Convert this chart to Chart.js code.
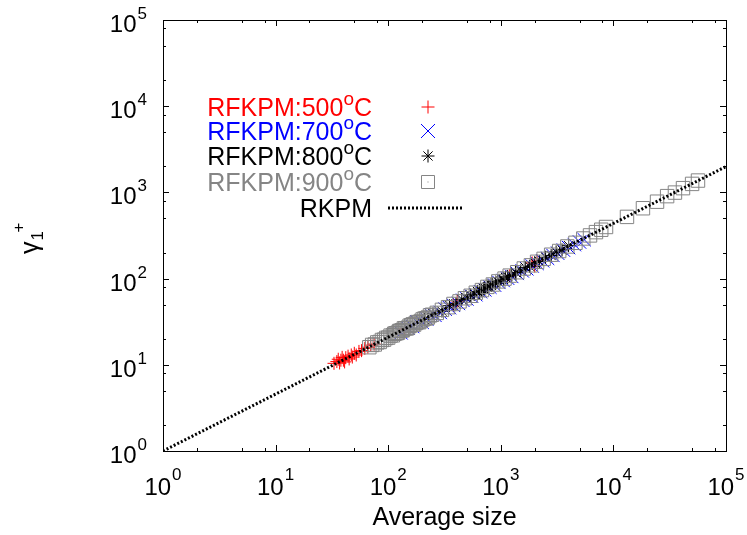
<!DOCTYPE html>
<html>
<head>
<meta charset="utf-8">
<script src="https://cdn.jsdelivr.net/npm/chart.js@4/dist/chart.umd.min.js"></script>
<style>
  body { margin: 0; background: #fff; }
  #chart { display: block; }
</style>
</head>
<body>
<canvas id="chart" width="747" height="535"></canvas>
<script>
// values
const red500X = [33, 35, 36, 37, 38, 39, 40, 41, 42, 44, 45, 47, 48, 50, 52, 55, 58, 62, 66, 70, 75, 140, 380, 410, 1200, 1900, 2000, 2100];
const red500Y = [10.4, 10.9, 11.6, 10.5, 11.3, 12.2, 11.3, 10.8, 12.1, 12.6, 11.7, 13.0, 12.3, 13.6, 13.0, 14.3, 14.6, 15.5, 16.0, 16.9, 17.4, 26.0, 49.5, 55.0, 108, 152, 140, 160];

const blue700X = [130, 150, 165, 180, 200, 220, 240, 260, 290, 320, 350, 380, 420, 460, 500, 550, 600, 660, 720, 800, 880, 960, 1050, 1150, 1250, 1400, 1550, 1700, 1900, 2100, 2350, 2600, 2900, 3200, 3600, 4000, 4500, 5000, 5500];
const blue700Y = [23.5, 26.5, 27.8, 31.5, 31.2, 34.0, 38.0, 37.5, 40.5, 44.2, 46.0, 49.0, 51.5, 56.0, 58.0, 62.5, 65.0, 70.5, 74.0, 79.5, 84.0, 90.5, 95.0, 101, 106, 115, 123, 130, 140, 150, 161, 172, 186, 197, 214, 229, 248, 266, 283];

const black800X = [210, 250, 300, 350, 400, 450, 500, 540, 580, 620, 650, 670, 700, 720, 760, 780, 820, 840, 900, 940, 980, 1060, 1100, 1150, 1250, 1350, 1500, 1650, 1800, 2000, 2200, 2500, 2800, 3100, 3500, 4000];
const black800Y = [33.5, 39.0, 42.0, 48.5, 51.0, 57.5, 59.0, 64.5, 65.5, 71.0, 69.0, 72.0, 76.5, 78.0, 79.0, 80.0, 85.0, 86.5, 88.0, 92.5, 95.5, 97.5, 103, 106, 109, 118, 123, 135, 139, 153, 158, 177, 185, 204, 215, 241];

const gray900X = [68, 72, 76, 80, 84, 88, 92, 96, 100, 105, 110, 113, 116, 119, 122, 125, 128, 132, 135, 138, 142, 146, 150, 155, 160, 165, 170, 176, 182, 188, 195, 202, 210, 218, 225, 235, 245, 270, 300, 340, 380, 430, 480, 540, 600, 680, 760, 850, 950, 1080, 1200, 1400, 1600, 1850, 2100, 2400, 2800, 3300, 3900, 4600, 5400, 6200, 7000, 7800, 8600, 13200, 18300, 24400, 30000, 35200, 41500, 50000, 56400];
const gray900Y = [16.0, 17.0, 17.2, 18.2, 18.4, 19.4, 19.6, 20.5, 20.7, 21.8, 22.0, 22.9, 23.2, 23.3, 23.6, 24.6, 24.8, 25.1, 25.3, 26.5, 26.6, 26.4, 27.0, 28.4, 28.8, 29.4, 29.3, 30.6, 31.3, 31.2, 32.2, 33.6, 34.4, 34.6, 35.4, 37.4, 38.1, 40.0, 43.4, 46.6, 50.8, 54.4, 59.2, 63.2, 68.6, 73.6, 80.1, 85.4, 92.8, 100, 108.3, 118.6, 131, 142.5, 156.6, 169.4, 189.3, 209, 236, 260, 292, 317, 346, 369, 397, 520, 655, 780, 905, 995, 1120, 1255, 1372];

const rkpmX = [1, 100000];
const rkpmY = [1, 1995];

const decades = [0, 1, 2, 3, 4, 5];
const minorSteps = [2, 5, 8];

const FONT = '"Liberation Sans", Arial, Helvetica, sans-serif';
const GRAY = '#858585';

function pairs(xs, ys) {
    return xs.map((x, i) => ({ x: x, y: ys[i] }));
}

// "10" followed by a raised exponent
function drawPow(ctx, base, exp, x, baseY, expY, align, size, expSize) {
    ctx.font = size + 'px ' + FONT;
    const w1 = ctx.measureText(base).width;
    ctx.font = expSize + 'px ' + FONT;
    const w2 = ctx.measureText(exp).width;
    const total = w1 + w2 + 1;
    let x0 = x;
    if (align === 'center') x0 = x - total / 2;
    if (align === 'right') x0 = x - total;
    ctx.textAlign = 'left';
    ctx.textBaseline = 'alphabetic';
    ctx.font = size + 'px ' + FONT;
    ctx.fillText(base, x0, baseY);
    ctx.font = expSize + 'px ' + FONT;
    ctx.fillText(exp, x0 + w1 + 1, expY);
}

function drawSymbol(ctx, style, x, y, color) {
    ctx.save();
    ctx.strokeStyle = color;
    ctx.lineWidth = 1;
    ctx.beginPath();
    if (style === 'cross' || style === 'star') {
        ctx.moveTo(x - 6.5, y); ctx.lineTo(x + 6.5, y);
        ctx.moveTo(x, y - 6.5); ctx.lineTo(x, y + 6.5);
    }
    if (style === 'crossRot' || style === 'star') {
        const d = style === 'star' ? 4.6 : 7;
        ctx.moveTo(x - d, y - d); ctx.lineTo(x + d, y + d);
        ctx.moveTo(x - d, y + d); ctx.lineTo(x + d, y - d);
    }
    if (style === 'rect') {
        ctx.rect(x - 6.5, y - 6.5, 13, 13);
    }
    ctx.stroke();
    if (style === 'rect') {
        ctx.fillStyle = color;
        ctx.fillRect(x - 0.5, y - 0.5, 1, 1);
    }
    ctx.restore();
}

const frameAndText = {
    id: 'frameAndText',
    afterDraw(chart) {
        const ctx = chart.ctx;
        const a = chart.chartArea;
        const xs = chart.scales.x;
        const ys = chart.scales.y;
        ctx.save();

        // frame
        ctx.strokeStyle = '#000';
        ctx.lineWidth = 1;
        ctx.strokeRect(Math.round(a.left) + 0.5, Math.round(a.top) + 0.5, Math.round(a.right - a.left), Math.round(a.bottom - a.top));

        // ticks on all four sides, pointing in
        ctx.beginPath();
        decades.forEach(d => {
            const v = Math.pow(10, d);
            const px = Math.round(xs.getPixelForValue(v)) + 0.5;
            const py = Math.round(ys.getPixelForValue(v)) + 0.5;
            ctx.moveTo(px, a.bottom); ctx.lineTo(px, a.bottom - 6);
            ctx.moveTo(px, a.top); ctx.lineTo(px, a.top + 6);
            ctx.moveTo(a.left, py); ctx.lineTo(a.left + 6, py);
            ctx.moveTo(a.right, py); ctx.lineTo(a.right - 6, py);
            if (d < 5) {
                minorSteps.forEach(m => {
                    const mv = m * v;
                    const mx = Math.round(xs.getPixelForValue(mv)) + 0.5;
                    const my = Math.round(ys.getPixelForValue(mv)) + 0.5;
                    ctx.moveTo(mx, a.bottom); ctx.lineTo(mx, a.bottom - 3);
                    ctx.moveTo(mx, a.top); ctx.lineTo(mx, a.top + 3);
                    ctx.moveTo(a.left, my); ctx.lineTo(a.left + 3, my);
                    ctx.moveTo(a.right, my); ctx.lineTo(a.right - 3, my);
                });
            }
        });
        ctx.stroke();

        // tick labels
        ctx.fillStyle = '#000';
        decades.forEach(d => {
            const v = Math.pow(10, d);
            const px = xs.getPixelForValue(v);
            const py = ys.getPixelForValue(v);
            drawPow(ctx, '10', String(d), px, a.bottom + 44, a.bottom + 29, 'center', 24, 17);
            drawPow(ctx, '10', String(d), 147, py + 12, py - 1, 'right', 24, 17);
        });

        // axis titles
        ctx.font = '25px ' + FONT;
        ctx.textAlign = 'center';
        ctx.textBaseline = 'alphabetic';
        ctx.fillText('Average size', (a.left + a.right) / 2, 525);

        ctx.save();
        ctx.translate(38, 254);
        ctx.rotate(-Math.PI / 2);
        ctx.textAlign = 'left';
        ctx.font = '25px ' + FONT;
        ctx.fillText('\u03b3', 0, 0);
        const gw = ctx.measureText('\u03b3').width;
        ctx.font = '17px ' + FONT;
        ctx.fillText('1', gw + 1, 5);
        ctx.fillText('+', gw + 9, -14);
        ctx.restore();

        // legend
        const rows = [
            { name: 'RFKPM:500', color: '#ff0000', style: 'cross', y: 116 },
            { name: 'RFKPM:700', color: '#0000ff', style: 'crossRot', y: 140 },
            { name: 'RFKPM:800', color: '#000000', style: 'star', y: 165 },
            { name: 'RFKPM:900', color: GRAY, style: 'rect', y: 191 }
        ];
        const right = 372;
        rows.forEach(r => {
            ctx.fillStyle = r.color;
            ctx.textAlign = 'left';
            ctx.font = '25px ' + FONT;
            const wc = ctx.measureText('C').width;
            const wn = ctx.measureText(r.name).width;
            ctx.font = '19px ' + FONT;
            const wo = ctx.measureText('o').width;
            const x0 = right - wc - wo - wn;
            ctx.font = '25px ' + FONT;
            ctx.fillText(r.name, x0, r.y);
            ctx.fillText('C', x0 + wn + wo, r.y);
            ctx.font = '19px ' + FONT;
            ctx.fillText('o', x0 + wn, r.y - 11);
            drawSymbol(ctx, r.style, 428, r.y - 9, r.color);
        });
        ctx.fillStyle = '#000';
        ctx.font = '25px ' + FONT;
        ctx.textAlign = 'right';
        ctx.fillText('RKPM', right, 217);
        ctx.strokeStyle = '#000';
        ctx.lineWidth = 3;
        ctx.setLineDash([2, 2]);
        ctx.beginPath();
        ctx.moveTo(388, 208);
        ctx.lineTo(464, 208);
        ctx.stroke();

        ctx.restore();
    }
};

new Chart(document.getElementById('chart'), {
    type: 'scatter',
    data: {
        datasets: [
            {
                label: 'RKPM',
                data: pairs(rkpmX, rkpmY),
                showLine: true,
                borderColor: '#000',
                borderWidth: 3,
                borderDash: [2, 2],
                pointRadius: 0,
                order: 0
            },
            {
                label: 'RFKPM:900oC',
                data: pairs(gray900X, gray900Y),
                pointStyle: 'rect',
                pointRadius: 9.5,
                borderColor: GRAY,
                backgroundColor: 'rgba(0,0,0,0)',
                borderWidth: 1,
                order: 1
            },
            {
                label: 'RFKPM:800oC',
                data: pairs(black800X, black800Y),
                pointStyle: 'star',
                pointRadius: 6.5,
                borderColor: '#000',
                borderWidth: 1,
                order: 2
            },
            {
                label: 'RFKPM:700oC',
                data: pairs(blue700X, blue700Y),
                pointStyle: 'crossRot',
                pointRadius: 9.5,
                borderColor: '#0000ff',
                borderWidth: 1,
                order: 3
            },
            {
                label: 'RFKPM:500oC',
                data: pairs(red500X, red500Y),
                pointStyle: 'cross',
                pointRadius: 6.5,
                borderColor: '#ff0000',
                borderWidth: 1,
                order: 4
            }
        ]
    },
    options: {
        responsive: false,
        animation: false,
        devicePixelRatio: 1,
        layout: { padding: { left: 163, right: 21, top: 20, bottom: 84 } },
        plugins: {
            legend: { display: false },
            tooltip: { enabled: false }
        },
        scales: {
            x: { type: 'logarithmic', min: 1, max: 100000, display: false },
            y: { type: 'logarithmic', min: 1, max: 100000, display: false }
        }
    },
    plugins: [frameAndText]
});
</script>
</body>
</html>
